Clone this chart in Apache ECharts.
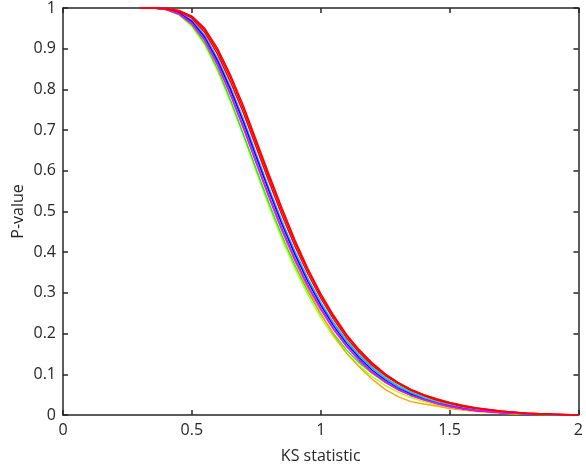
<!DOCTYPE html>
<html>
<head>
<meta charset="utf-8">
<script src="https://cdn.jsdelivr.net/npm/echarts@6/dist/echarts.min.js"></script>
<style>html,body{margin:0;padding:0;background:#fff}#c{width:586px;height:470px}</style>
</head>
<body>
<div id="c"></div>
<script>
const ksGrid = [0.30,0.35,0.40,0.45,0.50,0.55,0.60,0.65,0.70,0.75,0.80,0.85,0.90,0.95,1.00,1.05,1.10,1.15,1.20,1.25,1.30,1.35,1.40,1.45,1.50,1.55,1.60,1.70,1.80,1.90,2.00];
const xTicks = [0, 0.5, 1, 1.5, 2];
const yTicks = [0,0.1,0.2,0.3,0.4,0.5,0.6,0.7,0.8,0.9,1];

const pYellowGreen = [1,1,0.996,0.983,0.955,0.910,0.846,0.770,0.686,0.598,0.512,0.432,0.360,0.296,0.240,0.192,0.152,0.120,0.094,0.073,0.056,0.043,0.033,0.025,0.018,0.013,0.009,0.005,0.002,0.001,0];
const pGreen = [1,1,0.996,0.984,0.958,0.914,0.850,0.774,0.690,0.604,0.519,0.440,0.368,0.304,0.248,0.200,0.160,0.128,0.102,0.080,0.062,0.048,0.037,0.028,0.021,0.015,0.011,0.006,0.003,0.001,0];
const pOrange = [1,1,0.997,0.987,0.964,0.924,0.864,0.792,0.710,0.622,0.535,0.452,0.377,0.310,0.250,0.197,0.152,0.118,0.088,0.063,0.045,0.033,0.027,0.022,0.016,0.012,0.009,0.004,0.002,0.001,0];
const pTeal = [1,1,0.997,0.988,0.968,0.930,0.873,0.803,0.724,0.639,0.553,0.473,0.400,0.334,0.276,0.226,0.183,0.147,0.117,0.092,0.072,0.056,0.043,0.033,0.025,0.018,0.013,0.007,0.003,0.001,0];
const pCyan = [1,1,0.998,0.989,0.970,0.933,0.876,0.806,0.727,0.641,0.556,0.476,0.402,0.336,0.277,0.226,0.182,0.145,0.115,0.090,0.070,0.054,0.041,0.031,0.023,0.017,0.012,0.006,0.003,0.001,0];
const pBlue = [1,1,0.997,0.988,0.967,0.928,0.870,0.800,0.720,0.634,0.549,0.468,0.394,0.328,0.270,0.219,0.176,0.140,0.110,0.086,0.066,0.051,0.039,0.029,0.022,0.016,0.011,0.006,0.003,0.001,0];
const pPurple = [1,1,0.997,0.986,0.963,0.923,0.863,0.790,0.709,0.623,0.538,0.458,0.385,0.320,0.263,0.213,0.171,0.136,0.107,0.083,0.064,0.049,0.038,0.029,0.021,0.015,0.011,0.006,0.003,0.001,0];
const pMagenta = [1,1,0.996,0.985,0.961,0.920,0.859,0.786,0.704,0.618,0.533,0.453,0.381,0.316,0.259,0.210,0.168,0.133,0.104,0.081,0.062,0.048,0.037,0.028,0.021,0.015,0.011,0.006,0.003,0.001,0];
const pRed1 = [1,1,0.999,0.994,0.980,0.950,0.900,0.835,0.760,0.675,0.590,0.508,0.430,0.360,0.298,0.245,0.198,0.160,0.128,0.101,0.080,0.063,0.050,0.040,0.031,0.024,0.018,0.010,0.004,0.002,0];
const pRed2 = [1,1,0.998,0.991,0.975,0.940,0.886,0.818,0.742,0.657,0.572,0.490,0.415,0.347,0.287,0.235,0.190,0.153,0.122,0.097,0.077,0.060,0.047,0.036,0.028,0.021,0.016,0.009,0.004,0.002,0];
const pRed3 = [1,1,0.999,0.993,0.978,0.946,0.894,0.828,0.752,0.667,0.582,0.500,0.424,0.355,0.294,0.241,0.196,0.158,0.126,0.100,0.079,0.062,0.049,0.038,0.030,0.023,0.017,0.009,0.004,0.002,0];

const seriesDefs = [
  {name:'s1', color:'#b4ff00', p:pYellowGreen},
  {name:'s2', color:'#00ff00', p:pGreen},
  {name:'s3', color:'#ffa500', p:pOrange},
  {name:'s4', color:'#00e6a8', p:pTeal},
  {name:'s5', color:'#00bfff', p:pCyan},
  {name:'s6', color:'#0000ff', p:pBlue},
  {name:'s7', color:'#9933ff', p:pPurple},
  {name:'s8', color:'#ff00ff', p:pMagenta},
  {name:'s9', color:'#ff0000', p:pRed2},
  {name:'s10', color:'#ff0000', p:pRed3},
  {name:'s11', color:'#ff0000', p:pRed1}
];

const axisColor = '#262626';
const fontFam = '"Open Sans", "DejaVu Sans", sans-serif';
const lineCommon = {show: true, onZero: false, lineStyle: {color: axisColor, width: 1.5}};
const tickCommon = {show: true, inside: true, length: 5, lineStyle: {color: axisColor, width: 1.5}};
const chart = echarts.init(document.getElementById('c'), null, {renderer:'canvas'});
chart.setOption({
  animation: false,
  backgroundColor: '#fff',
  grid: {left: 63, right: 3, top: 5, bottom: 55},
  xAxis: [{
    type: 'value', position: 'bottom', min: 0, max: 2, interval: 0.5,
    name: 'KS statistic', nameLocation: 'middle', nameGap: 33,
    nameTextStyle: {color: axisColor, fontSize: 16, fontFamily: fontFam},
    axisLine: lineCommon, axisTick: tickCommon,
    axisLabel: {color: axisColor, fontSize: 16, fontFamily: fontFam, margin: 7},
    splitLine: {show: false}
  },{
    type: 'value', position: 'top', min: 0, max: 2, interval: 0.5,
    axisLine: lineCommon, axisTick: tickCommon,
    axisLabel: {show: false}, splitLine: {show: false}
  }],
  yAxis: [{
    type: 'value', position: 'left', min: 0, max: 1, interval: 0.1,
    name: 'P-value', nameLocation: 'middle', nameGap: 37, nameMoveOverlap: false,
    nameTextStyle: {color: axisColor, fontSize: 16, fontFamily: fontFam},
    axisLine: lineCommon, axisTick: tickCommon,
    axisLabel: {color: axisColor, fontSize: 16, fontFamily: fontFam, margin: 7,
      formatter: v => String(+v.toFixed(1))},
    splitLine: {show: false}
  },{
    type: 'value', position: 'right', min: 0, max: 1, interval: 0.1,
    axisLine: lineCommon, axisTick: tickCommon,
    axisLabel: {show: false}, splitLine: {show: false}
  }],
  series: seriesDefs.map(s => ({
    name: s.name, type: 'line', xAxisIndex: 0, yAxisIndex: 0,
    showSymbol: false, symbol: 'none', smooth: false,
    lineStyle: {color: s.color, width: s.color === '#ff0000' ? 1.5 : 1.4},
    data: ksGrid.map((x, i) => [x, s.p[i]])
  }))
});
</script>
</body>
</html>
